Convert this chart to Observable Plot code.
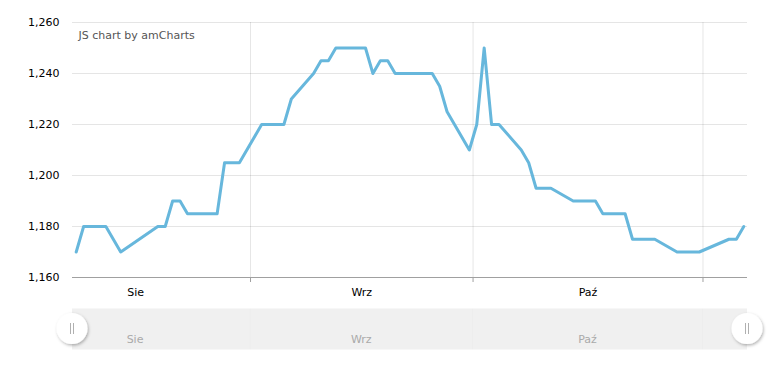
<!DOCTYPE html>
<html><head><meta charset="utf-8">
<script src="https://cdn.jsdelivr.net/npm/d3@7"></script>
<script src="https://cdn.jsdelivr.net/npm/@observablehq/plot@0.6"></script>
<style>body{margin:0;background:#fff;overflow:hidden}</style>
</head><body><div id="chart"></div>
<script>
const dates = ["2019-08-08","2019-08-09","2019-08-12","2019-08-14","2019-08-19","2019-08-20","2019-08-21","2019-08-22","2019-08-23","2019-08-27","2019-08-28","2019-08-30","2019-09-02","2019-09-05","2019-09-06","2019-09-09","2019-09-10","2019-09-11","2019-09-12","2019-09-16","2019-09-17","2019-09-18","2019-09-19","2019-09-20","2019-09-25","2019-09-26","2019-09-27","2019-09-30","2019-10-01","2019-10-02","2019-10-03","2019-10-04","2019-10-07","2019-10-08","2019-10-09","2019-10-11","2019-10-14","2019-10-17","2019-10-18","2019-10-21","2019-10-22","2019-10-25","2019-10-28","2019-10-31","2019-11-04","2019-11-05","2019-11-06"];
const values = [1170,1180,1180,1170,1180,1180,1190,1190,1185,1185,1205,1205,1220,1220,1230,1240,1245,1245,1250,1250,1240,1245,1245,1240,1240,1235,1225,1210,1220,1250,1220,1220,1210,1205,1195,1195,1190,1190,1185,1185,1175,1175,1170,1170,1175,1175,1180];
const monthStarts = ["2019-09-01","2019-10-01","2019-11-01"];
const monthMids = ["2019-08-16T12:00Z","2019-09-16T00:00Z","2019-10-16T12:00Z"];
const monthLabels = ["Sie","Wrz","Paź"];
const yTicks = [1160,1180,1200,1220,1240,1260];
const xDomain = ["2019-08-08","2019-11-07"];
const watermark = "JS chart by amCharts";

const data = dates.map((d, i) => ({date: d3.utcHour.offset(new Date(d), 12), value: values[i]}));
const starts = monthStarts.map(d => new Date(d));
const mids = monthMids.map(d => new Date(d));
const labelByTime = new Map(mids.map((d, i) => [+d, monthLabels[i]]));

const plot = Plot.plot({
  width: 768, height: 369,
  marginTop: 22, marginBottom: 92, marginLeft: 72, marginRight: 21,
  style: {fontFamily: "'DejaVu Sans', sans-serif", fontSize: "11px", background: "#fff", color: "#000", overflow: "visible"},
  x: {type: "utc", domain: xDomain.map(d => new Date(d)), label: null},
  y: {domain: [yTicks[0], yTicks[yTicks.length - 1]], label: null},
  marks: [
    Plot.ruleY(yTicks.slice(1), {stroke: "#000", strokeOpacity: 0.1}),
    Plot.ruleX(starts, {stroke: "#000", strokeOpacity: 0.1}),
    Plot.ruleY([yTicks[0]], {stroke: "#a0a0a0"}),
    Plot.axisX(starts, {tickSize: 5, tickFormat: () => "", stroke: "#a0a0a0", label: null}),
    Plot.axisX(mids, {tickSize: 0, tickPadding: 11, tickFormat: d => labelByTime.get(+d), fill: "#000", label: null}),
    Plot.axisY(yTicks, {tickSize: 0, tickPadding: 13, tickFormat: d3.format(","), fill: "#000", label: null}),
    Plot.lineY(data, {x: "date", y: "value", stroke: "#67b7dc", strokeWidth: 3}),
    Plot.text([watermark], {frameAnchor: "top-left", textAnchor: "start", lineAnchor: "top", dx: 6, dy: 9, fill: "#555"})
  ]
});

const svg = d3.select(plot);
const x = plot.scale("x");
const [x0, x1] = x.range;
const defs = svg.append("defs");
const f = defs.append("filter").attr("id", "sh").attr("x", "-50%").attr("y", "-50%").attr("width", "200%").attr("height", "200%");
f.append("feDropShadow").attr("dx", 1).attr("dy", 1.5).attr("stdDeviation", 1.5).attr("flood-color", "#000").attr("flood-opacity", 0.3);
const sb = svg.append("g");
sb.append("rect").attr("x", x0).attr("y", 308.5).attr("width", x1 - x0).attr("height", 41).attr("fill", "#f0f0f0");
sb.selectAll("line.g").data(starts).join("line").attr("class", "g")
  .attr("x1", d => x.apply(d)).attr("x2", d => x.apply(d)).attr("y1", 308.5).attr("y2", 349.5)
  .attr("stroke", "#000").attr("stroke-opacity", 0.015);
sb.selectAll("text").data(mids).join("text")
  .attr("x", d => x.apply(d)).attr("y", 343).attr("text-anchor", "middle")
  .attr("fill", "#aaa").attr("font-size", 11).text(d => labelByTime.get(+d));
for (const cx of [x0, x1]) {
  const g = sb.append("g");
  g.append("circle").attr("cx", cx).attr("cy", 328.5).attr("r", 15.5).attr("fill", "#fff").attr("filter", "url(#sh)");
  for (const dx of [-1.5, 1.5]) {
    g.append("line").attr("x1", cx + dx).attr("x2", cx + dx).attr("y1", 323).attr("y2", 334).attr("stroke", "#b0b0b0").attr("stroke-width", 1);
  }
}
document.getElementById("chart").appendChild(plot);
</script>
</body></html>
